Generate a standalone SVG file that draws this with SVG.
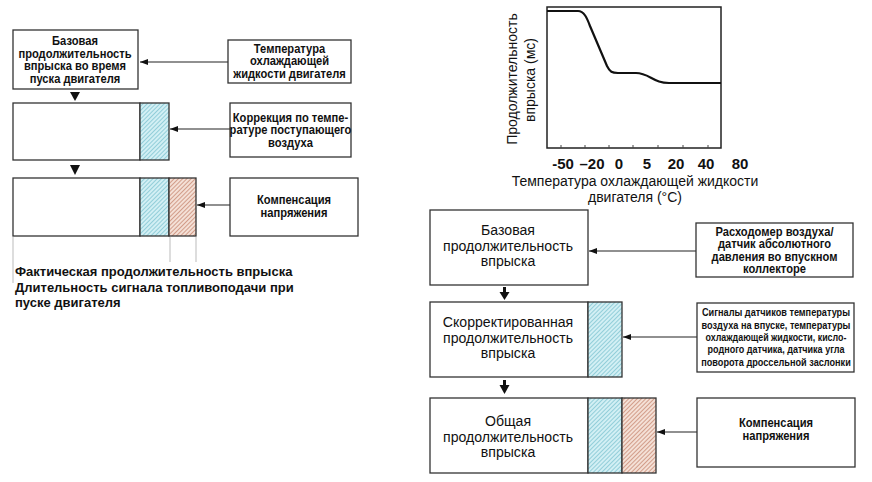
<svg xmlns="http://www.w3.org/2000/svg" width="872" height="482" viewBox="0 0 872 482">
<defs>
<pattern id="hatchC" patternUnits="userSpaceOnUse" width="3" height="3" patternTransform="rotate(45)">
<rect width="3" height="3" fill="#d2eff4"/>
<line x1="0" y1="0" x2="0" y2="3" stroke="#6fbccb" stroke-width="1.3"/>
</pattern>
<pattern id="hatchR" patternUnits="userSpaceOnUse" width="3" height="3" patternTransform="rotate(45)">
<rect width="3" height="3" fill="#f4e0d6"/>
<line x1="0" y1="0" x2="0" y2="3" stroke="#c07860" stroke-width="1.3"/>
</pattern>
<marker id="ah" viewBox="0 0 8 6" refX="8" refY="3" markerWidth="8" markerHeight="6" markerUnits="userSpaceOnUse" orient="auto">
<path d="M0,0 L8,3 L0,6 z" fill="#111"/>
</marker>
</defs>
<style>
.box{fill:#fff;stroke:#333;stroke-width:1.3}
.hc{fill:url(#hatchC);stroke:#333;stroke-width:1.3}
.hr{fill:url(#hatchR);stroke:#333;stroke-width:1.3}
.t{font-family:"Liberation Sans",Arial,sans-serif;fill:#111}
.sb{font-size:12px;font-weight:bold;text-anchor:middle}
.m{font-size:14px;text-anchor:middle}
.big{font-size:15px;text-anchor:middle}
.cn{font-size:11px;font-weight:bold;text-anchor:middle}
.con{stroke:#222;stroke-width:1.2;fill:none}
.gl{stroke:#bbb;stroke-width:1}
</style>

<g id="connectors">
<line class="con" x1="228" y1="62" x2="140" y2="62" marker-end="url(#ah)"/>
<line class="con" x1="230" y1="129" x2="170" y2="129" marker-end="url(#ah)"/>
<line class="con" x1="230" y1="205" x2="197" y2="205" marker-end="url(#ah)"/>
<polygon points="70,92 80,92 75,101" fill="#111"/>
<polygon points="70,165 80,165 75,175" fill="#111"/>
<line class="con" x1="696" y1="251" x2="589" y2="251" marker-end="url(#ah)"/>
<line class="con" x1="697" y1="337" x2="623" y2="337" marker-end="url(#ah)"/>
<line class="con" x1="697" y1="432" x2="657" y2="432" marker-end="url(#ah)"/>
<rect x="503" y="287" width="3" height="6" fill="#111"/>
<polygon points="499.5,292 509.5,292 504.5,300" fill="#111"/>
<rect x="503" y="380" width="3" height="6" fill="#111"/>
<polygon points="499.5,385 509.5,385 504.5,394" fill="#111"/>
</g>

<g id="start-base">
<rect class="box" x="13" y="30" width="125" height="59"/>
<g transform="translate(75,0) scale(0.93,1)">
<text class="t sb"><tspan x="0" y="45.5">Базовая</tspan><tspan x="0" y="58">продолжительность</tspan><tspan x="0" y="70.5">впрыска во время</tspan><tspan x="0" y="83">пуска двигателя</tspan></text>
</g>
</g>
<g id="coolant-temp">
<rect class="box" x="228" y="40" width="123" height="43"/>
<g transform="translate(289.5,0) scale(0.93,1)">
<text class="t sb"><tspan x="0" y="53">Температура</tspan><tspan x="0" y="65.5">охлаждающей</tspan><tspan x="0" y="78">жидкости двигателя</tspan></text>
</g>
</g>
<g id="start-corrected">
<rect class="box" x="13" y="103" width="127" height="57"/>
<rect class="hc" x="140" y="103" width="29" height="57"/>
</g>
<g id="intake-temp-corr">
<rect class="box" x="230" y="103" width="121" height="54"/>
<g transform="translate(290.5,0) scale(0.93,1)">
<text class="t sb"><tspan x="0" y="122">Коррекция по темпе-</tspan><tspan x="0" y="134.5">ратуре поступающего</tspan><tspan x="0" y="147">воздуха</tspan></text>
</g>
</g>
<g id="start-actual">
<rect class="box" x="13" y="178" width="127" height="58"/>
<rect class="hc" x="140" y="178" width="29" height="58"/>
<rect class="hr" x="169" y="178" width="27" height="58"/>
<line class="gl" x1="13" y1="237" x2="13" y2="283"/>
<line class="gl" x1="170" y1="237" x2="170" y2="262"/>
<line class="gl" x1="196" y1="237" x2="196" y2="262"/>
</g>
<g id="voltage-comp-left">
<rect class="box" x="230" y="178" width="128" height="58"/>
<g transform="translate(294,0) scale(0.93,1)">
<text class="t sb"><tspan x="0" y="204.5">Компенсация</tspan><tspan x="0" y="217.5">напряжения</tspan></text>
</g>
</g>
<g id="start-caption">
<text class="t" style="font-size:13px;font-weight:bold"><tspan x="15" y="276">Фактическая продолжительность впрыска</tspan><tspan x="15" y="291.5">Длительность сигнала топливоподачи при</tspan><tspan x="15" y="307">пуске двигателя</tspan></text>
</g>

<g id="chart">
<rect x="547" y="7" width="174" height="141" fill="none" stroke="#222" stroke-width="1.5"/>
<path d="M547,11 L578,11 C584,11 587,18 590,26 L607,66 C610,72 612,73 618,73 L636,73 C646,73 651,79 659,81.5 C662,82.5 665,83 669,83 L721,83" fill="none" stroke="#111" stroke-width="2.2"/>
<g stroke="#444" stroke-width="1">
<line x1="561" y1="148" x2="561" y2="145"/>
<line x1="585" y1="148" x2="585" y2="145"/>
<line x1="609" y1="148" x2="609" y2="145"/>
<line x1="633" y1="148" x2="633" y2="145"/>
<line x1="658" y1="148" x2="658" y2="145"/>
<line x1="683" y1="148" x2="683" y2="145"/>
<line x1="708" y1="148" x2="708" y2="145"/>
</g>
<g class="t" style="font-size:15px;font-weight:bold;text-anchor:middle">
<text x="563" y="169">-50</text>
<text x="592" y="169">–20</text>
<text x="619" y="169">0</text>
<text x="647" y="169">5</text>
<text x="676" y="169">20</text>
<text x="706" y="169">40</text>
<text x="740" y="169">80</text>
</g>
<text class="t m" x="635" y="186">Температура охлаждающей жидкости</text>
<text class="t m" x="635" y="202">двигателя (°C)</text>
<text class="t m" transform="translate(517,79) rotate(-90)">Продолжительность</text>
<text class="t m" transform="translate(535,80) rotate(-90)">впрыска (мс)</text>
</g>

<g id="base-duration">
<rect class="box" x="430" y="210" width="158" height="75"/>
<g transform="translate(508,0) scale(0.94,1)">
<text class="t big"><tspan x="0" y="235.5">Базовая</tspan><tspan x="0" y="251">продолжительность</tspan><tspan x="0" y="266.5">впрыска</tspan></text>
</g>
</g>
<g id="airflow-sensor">
<rect class="box" x="696" y="223" width="157" height="54"/>
<g transform="translate(774.5,0) scale(0.93,1)">
<text class="t sb"><tspan x="0" y="236">Расходомер воздуха/</tspan><tspan x="0" y="248.5">датчик абсолютного</tspan><tspan x="0" y="261">давления во впускном</tspan><tspan x="0" y="273.5">коллекторе</tspan></text>
</g>
</g>
<g id="corrected-duration">
<rect class="box" x="430" y="302" width="158" height="75"/>
<rect class="hc" x="588" y="302" width="34" height="75"/>
<g transform="translate(508,0) scale(0.94,1)">
<text class="t big"><tspan x="0" y="327.5">Скорректированная</tspan><tspan x="0" y="343">продолжительность</tspan><tspan x="0" y="358.5">впрыска</tspan></text>
</g>
</g>
<g id="sensor-signals">
<rect class="box" x="697" y="303" width="157" height="69"/>
<g transform="translate(776,0) scale(0.8,1)">
<text class="t cn"><tspan x="0" y="316.5" textLength="185" lengthAdjust="spacingAndGlyphs">Сигналы датчиков температуры</tspan><tspan x="0" y="328.8" textLength="186" lengthAdjust="spacingAndGlyphs">воздуха на впуске, температуры</tspan><tspan x="0" y="341.1" textLength="176" lengthAdjust="spacingAndGlyphs">охлаждающей жидкости, кисло-</tspan><tspan x="0" y="353.4" textLength="171" lengthAdjust="spacingAndGlyphs">родного датчика, датчика угла</tspan><tspan x="0" y="365.7" textLength="187" lengthAdjust="spacingAndGlyphs">поворота дроссельной заслонки</tspan></text>
</g>
</g>
<g id="total-duration">
<rect class="box" x="430" y="398" width="158" height="75"/>
<rect class="hc" x="588" y="398" width="34" height="75"/>
<rect class="hr" x="622" y="398" width="34" height="75"/>
<g transform="translate(508,0) scale(0.94,1)">
<text class="t big"><tspan x="0" y="426.5">Общая</tspan><tspan x="0" y="442">продолжительность</tspan><tspan x="0" y="457.5">впрыска</tspan></text>
</g>
</g>
<g id="voltage-comp-right">
<rect class="box" x="697" y="398" width="158" height="69"/>
<g transform="translate(776,0) scale(0.93,1)">
<text class="t sb"><tspan x="0" y="427.5">Компенсация</tspan><tspan x="0" y="440.5">напряжения</tspan></text>
</g>
</g>
</svg>
